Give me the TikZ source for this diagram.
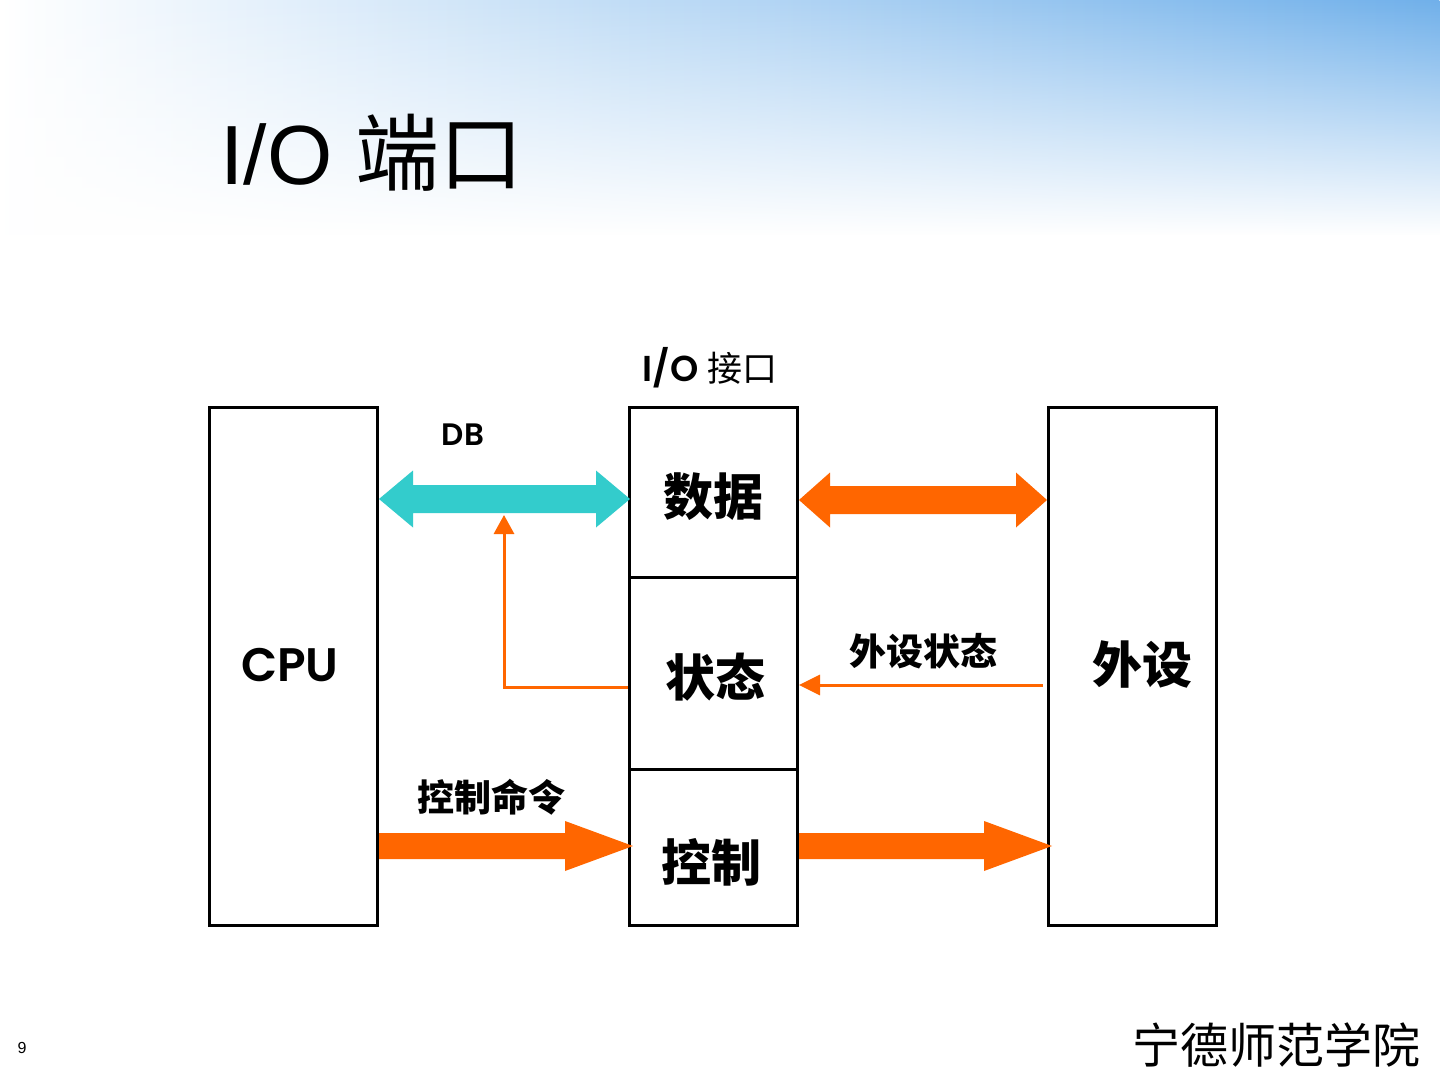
\documentclass[tikz,border=0pt]{standalone}
\usepackage{fontspec}
\setmainfont{Liberation Sans}
\newfontfamily\cjk{Noto Sans CJK SC}
\newfontfamily\popb{Poppins SemiBold}
\usetikzlibrary{arrows.meta,fadings,calc}
\definecolor{dbteal}{RGB}{51,204,204}
\definecolor{orng}{RGB}{255,102,0}
\definecolor{bgmid}{RGB}{200,226,247}
\definecolor{bgblue}{RGB}{112,176,234}
\tikzfading[name=fadedown, top color=transparent!0, bottom color=transparent!100]
\tikzfading[name=fadeleftright, left color=transparent!100, middle color=transparent!0, right color=transparent!100]
\newcommand\dblarrow[6]{%
 \fill[#1] (#2) -- ($(#2)+(#6,#5)$) -- ($(#2)+(#6,#4)$) -- ($(#3)+(-#6,#4)$) -- ($(#3)+(-#6,#5)$) -- (#3)
  -- ($(#3)+(-#6,-#5)$) -- ($(#3)+(-#6,-#4)$) -- ($(#2)+(#6,-#4)$) -- ($(#2)+(#6,-#5)$) -- cycle;}
\newcommand\sglarrow[6]{%
 \fill[#1] ($(#2)+(0,#4)$) -- ($(#3)+(-#6,#4)$) -- ($(#3)+(-#6,#5)$) -- (#3)
  -- ($(#3)+(-#6,-#5)$) -- ($(#3)+(-#6,-#4)$) -- ($(#2)+(0,-#4)$) -- cycle;}
\begin{document}
\begin{tikzpicture}[x=0.5pt,y=0.5pt,
  box/.style={draw=black,line width=1.5pt,fill=white,inner sep=0pt,minimum width=84pt},
  big/.style={font=\cjk\bfseries\fontsize{25}{25}\selectfont,inner sep=0pt},
  mid/.style={font=\cjk\bfseries\fontsize{18.5}{18.5}\selectfont,inner sep=0pt},
  thin/.style={draw=orng,line width=1.5pt}]
\useasboundingbox (0,0) rectangle (1440,-1080);
\fill[white] (0,0) rectangle (1440,-1080);
% background
\shade[left color=white, middle color=bgmid, right color=bgblue, path fading=fadedown] (0,0) rectangle (1440,-235);
\draw[white,opacity=0.35,line width=4pt,line cap=round,path fading=fadeleftright] (715,-135) .. controls (850,-60) and (1000,-30) .. (1200,-22);
% title
\node[anchor=base west,inner sep=0pt] (title) at (220,-185) {\fontsize{42}{42}\selectfont I/O \cjk 端口};
% boxes
\node[box,minimum height=258.5pt] (cpu) at (293.5,-666.5) {};
\node[box,minimum height=84.5pt] (data) at (713.5,-492.5) {};
\node[box,minimum height=96pt] (state) at (713.5,-673) {};
\node[box,minimum height=78pt] (ctrl) at (713.5,-847) {};
\node[box,minimum height=258.5pt] (dev) at (1132.5,-666.5) {};
% box texts
\node[font=\popb\fontsize{23.5}{23.5}\selectfont,inner sep=0pt] (cputxt) at (290,-665) {CPU};
\node[big] (datatxt) at (713,-497) {数据};
\node[big] (statetxt) at (715,-677) {状态};
\node[big] (ctrltxt) at (711,-862) {控制};
\node[big] (devtxt) at (1142,-664) {外设};
% labels
\node[font=\popb\fontsize{15.5}{15.5}\selectfont,inner sep=0pt] (db) at (463,-435) {DB};
\node[inner sep=0pt] (iolbl) at (710,-368) {\popb\fontsize{18}{18}\selectfont I/O \cjk\fontsize{17.5}{17.5}\selectfont 接口};
\node[mid] (cmdlbl) at (491,-797) {控制命令};
\node[mid] (stlbl) at (923,-651) {外设状态};
% block arrows
\coordinate (dbL) at (cpu.east |- 0,-499);
\coordinate (dbR) at ($(data.west |- 0,-499)+(2,0)$);
\dblarrow{dbteal}{dbL}{dbR}{14}{28.5}{34}
\coordinate (odL) at (data.east |- 0,-500);
\coordinate (odR) at (dev.west |- 0,-500);
\dblarrow{orng}{odL}{odR}{14}{27.5}{31}
\coordinate (c1s) at (cpu.east |- 0,-846);
\coordinate (c1e) at ($(ctrl.west |- 0,-846)+(5,0)$);
\sglarrow{orng}{c1s}{c1e}{13}{25}{68}
\coordinate (c2s) at (ctrl.east |- 0,-846);
\coordinate (c2e) at ($(dev.west |- 0,-846)+(5,0)$);
\sglarrow{orng}{c2s}{c2e}{13}{25}{68}
% thin arrows
\coordinate (stA) at (state.west |- 0,-687);
\coordinate (stB) at (504,-687);
\coordinate (stC) at (504,-515);
\draw[thin,-{Triangle[length=9.5pt,width=10pt]}] (stA) -- (stB) -- (stC);
\coordinate (psA) at ($(dev.west |- 0,-685)+(-4,0)$);
\coordinate (psB) at (state.east |- 0,-685);
\draw[thin,-{Triangle[length=10.5pt,width=10pt]}] (psA) -- (psB);
% footer
\node[font=\fontsize{8}{8}\selectfont,inner sep=0pt] (pg) at (22,-1048) {9};
\node[anchor=east,font=\cjk\fontsize{24}{24}\selectfont,inner sep=0pt] (school) at (1421,-1045) {宁德师范学院};
\end{tikzpicture}
\end{document}
